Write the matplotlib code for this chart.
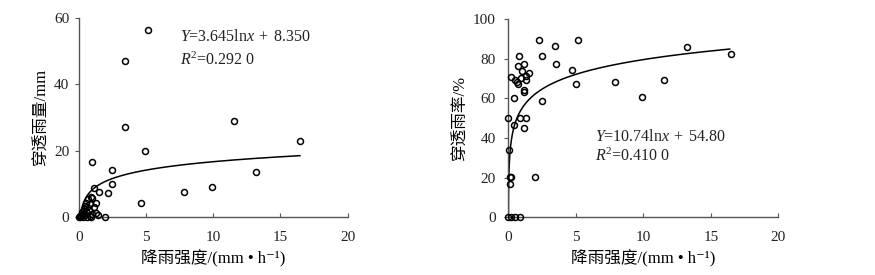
import numpy as np
import matplotlib
matplotlib.use("Agg")
import matplotlib.pyplot as plt

plt.rcParams['font.family'] = ['Liberation Serif', 'Noto Sans CJK SC', 'DejaVu Serif']
plt.rcParams['mathtext.fontset'] = 'custom'
plt.rcParams['mathtext.rm'] = 'Liberation Serif'
plt.rcParams['mathtext.it'] = 'Liberation Serif:italic'
plt.rcParams['axes.unicode_minus'] = False
plt.rcParams['text.color'] = '#222222'

# Left panel: throughfall (mm) vs rainfall intensity
tf_x = [0.0, 0.05, 0.1, 0.15, 0.2, 0.25, 0.3, 0.35, 0.4, 0.45, 0.5, 0.5, 0.6, 0.62,
        0.7, 0.75, 0.8, 0.85, 0.9, 1.0, 1.0, 1.1, 1.15, 1.25, 1.3, 1.45, 0.9,
        1.5, 2.19, 2.42, 2.44, 0.95, 1.9, 3.39, 3.46, 5.16, 4.94, 4.61, 7.85,
        9.87, 11.54, 13.2, 16.45]
tf_y = [0.0, 0.3, 0.0, 0.5, 1.0, 1.5, 0.2, 2.5, 0.8, 3.5, 4.3, 1.8, 3.0, 0.0,
        5.5, 2.2, 0.5, 4.0, 6.0, 5.9, 1.0, 8.7, 3.0, 4.2, 1.2, 0.7, 0.0,
        7.7, 7.3, 14.2, 9.9, 16.7, 0.0, 47.2, 27.3, 56.3, 19.9, 4.2, 7.7,
        9.0, 29.0, 13.7, 22.9]
tf_a, tf_b = 3.645, 8.350

# Right panel: throughfall rate (%) vs rainfall intensity
tr_x = [2.27, 5.19, 3.43, 13.26, 16.47, 0.82, 2.5, 1.14, 3.53, 0.7, 4.69, 1.04,
        1.56, 0.18, 1.29, 0.94, 1.3, 11.56, 0.5, 0.62, 0.7, 7.9, 4.99, 1.14,
        1.14, 0.4, 9.9, 2.5, 0.0, 0.87, 1.33, 0.4, 1.14, 0.05, 1.96, 0.15,
        0.18, 0.15, 0.0, 0.2, 0.5, 0.87]
tr_y = [89.4, 89.4, 86.5, 85.7, 82.3, 81.5, 81.5, 77.1, 77.1, 76.5, 74.3, 73.8,
        72.9, 70.9, 71.2, 70.1, 69.2, 69.4, 69.2, 68.4, 67.2, 68.1, 67.2, 64.0,
        63.0, 60.3, 60.8, 58.6, 50.2, 50.2, 50.2, 46.5, 45.2, 33.9, 20.3, 20.3,
        20.3, 16.8, 0.0, 0.0, 0.0, 0.0]
tr_a, tr_b = 10.74, 54.80

xticks = [0, 5, 10, 15, 20]
xlabel = '降雨强度/(mm • h⁻¹)'

fig = plt.figure(figsize=(8.75, 2.75), dpi=100)
ax1 = fig.add_axes([0.0903, 0.2098, 0.3069, 0.7247])
ax2 = fig.add_axes([0.5809, 0.2098, 0.3086, 0.7211])

def style(ax, ylim, yticks, ylabel, ypad):
    ax.set_xlim(0, 20)
    ax.set_ylim(*ylim)
    ax.set_xticks(xticks)
    ax.set_yticks(yticks)
    for s in ['top', 'right']:
        ax.spines[s].set_visible(False)
    for s in ['left', 'bottom']:
        ax.spines[s].set_color('#555555')
        ax.spines[s].set_linewidth(1.0)
    ax.tick_params(axis='x', direction='in', length=3, width=0.8, color='#555555',
                   labelsize=11, pad=10, labelcolor='#222222')
    ax.tick_params(axis='y', direction='out', length=3, width=0.8, color='#555555',
                   labelsize=11, pad=ypad, labelcolor='#222222')
    ax.set_xlabel(xlabel, fontsize=12, labelpad=4)
    ax.set_ylabel(ylabel, fontsize=12, labelpad=3)

style(ax1, (0, 60), [0, 20, 40, 60], '穿透雨量/mm', 4)
style(ax2, (0, 100), [0, 20, 40, 60, 80, 100], '穿透雨率/%', 6)

ax1.plot(tf_x, tf_y, 'o', ms=4.3, mfc='none', mec='black', mew=1.1, clip_on=False, zorder=3)
xs1 = np.geomspace(0.1, 16.45, 200)
ax1.plot(xs1, tf_a * np.log(xs1) + tf_b, color='black', lw=1.1, zorder=2)

ax2.plot(tr_x, tr_y, 'o', ms=4.3, mfc='none', mec='black', mew=1.1, clip_on=False, zorder=3)
xs2 = np.geomspace(np.exp(-tr_b / tr_a), 16.4, 300)
ax2.plot(xs2, tr_a * np.log(xs2) + tr_b, color='black', lw=1.1, zorder=2)

ax1.text(7.5, 54.3, r'$Y$=3.645ln$x\;+\;$8.350', fontsize=11.5, va='center', ha='left')
ax1.text(7.5, 47.4, r'$R^2$=0.292 0', fontsize=11.5, va='center', ha='left')
ax2.text(6.4, 40.6, r'$Y$=10.74ln$x\;+\;$54.80', fontsize=11.5, va='center', ha='left')
ax2.text(6.4, 30.9, r'$R^2$=0.410 0', fontsize=11.5, va='center', ha='left')

fig.savefig('out.png', dpi=100)
